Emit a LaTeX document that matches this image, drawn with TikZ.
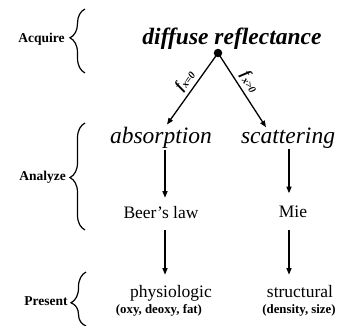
\documentclass[tikz,border=0pt]{standalone}
\usepackage{fontspec}
\setmainfont{Liberation Serif}
\usetikzlibrary{decorations.pathreplacing,arrows.meta}
\begin{document}
\begin{tikzpicture}[x=1pt,y=-1pt,
  lbl/.style={font=\fontsize{13.5}{15}\selectfont\bfseries, anchor=base, inner sep=0pt},
  big/.style={font=\fontsize{23.5}{26}\selectfont\itshape, anchor=base, inner sep=0pt},
  mid/.style={font=\fontsize{17.5}{20}\selectfont, anchor=base, inner sep=0pt},
  small/.style={font=\fontsize{12.8}{14}\selectfont\bfseries, anchor=base, inner sep=0pt},
  arr/.style={line width=1.3pt, -{Triangle[length=6.5pt,width=5pt]}},
  brc/.style={line width=1.2pt, decorate, decoration={brace, amplitude=15pt, aspect=#1}},
  flab/.style={sloped, above, inner sep=3.5pt, font=\fontsize{15}{16}\selectfont\bfseries\itshape}]
\useasboundingbox (0,0) rectangle (340,325);

% stage labels and braces
\node[lbl] (acq) at (41.5,42) {Acquire};
\node[lbl] (ana) at (42.5,180) {Analyze};
\node[lbl] (pre) at (46,305) {Present};
\draw[brc=0.55] (85,73) -- (85,9);
\draw[brc=0.49] (85,230) -- (85,123);
\draw[brc=0.43] (86,326) -- (86,272);

% top
\node[font=\fontsize{23.5}{26}\selectfont\bfseries\itshape, anchor=base, inner sep=0pt] (dr) at (232,44) {diffuse reflectance};
\node[circle, fill, inner sep=0pt, minimum size=8.5pt] (dot) at (218,53) {};

% second row
\node[big] (abs) at (161,143) {absorption};
\node[big] (scat) at (288,143) {scattering};

% third row
\node[mid] (beer) at (161,218) {Beer’s law};
\node[mid] (mie) at (293,217) {Mie};

% fourth row
\node[mid] (phys) at (171,297) {physiologic};
\node[small] (oxy) at (159,313) {(oxy, deoxy, fat)};
\node[mid] (struct) at (300,297) {structural};
\node[small] (dens) at (299,313) {(density, size)};

% connectors
\draw[arr] (dot.center) -- ([xshift=6pt,yshift=2pt]abs.north)
  node[flab, pos=0.47] {f\textsubscript{x=0}};
\draw[arr] (dot.center) -- ([xshift=-22pt]scat.north)
  node[flab, pos=0.47] {f\textsubscript{x>0}};

\draw[arr, shorten <=2pt, shorten >=8pt] ([xshift=4pt]abs.south) -- ([xshift=4pt]beer.north);
\draw[arr, shorten <=1pt, shorten >=12pt] ([xshift=1pt]scat.south) -- ([xshift=-4pt]mie.north);
\draw[arr, shorten <=12pt, shorten >=10pt] ([xshift=4pt]beer.south) -- ([xshift=-6pt]phys.north);
\draw[arr, shorten <=13pt, shorten >=10pt] ([xshift=-4pt]mie.south) -- ([xshift=-11pt]struct.north);
\end{tikzpicture}
\end{document}
